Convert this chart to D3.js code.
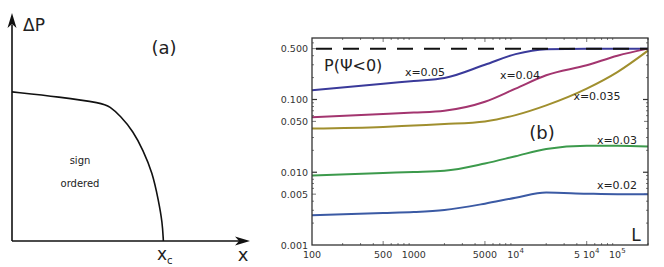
<!DOCTYPE html>
<html>
<head>
<meta charset="utf-8">
<script src="https://cdn.jsdelivr.net/npm/d3@7"></script>
<style>
  body { margin: 0; background: #fff; }
  text { font-family: "DejaVu Sans", "Noto Sans", sans-serif; }
</style>
</head>
<body>
<svg id="chart" width="664" height="267"></svg>
<script>
// ---------- data ----------
// panel (a): schematic phase boundary (x, deltaP), both in units of the drawn axes
const boundaryX = [0, 0.20, 0.38, 0.41, 0.455, 0.51, 0.55, 0.59, 0.615, 0.632, 0.636];
const boundaryY = [0.654, 0.632, 0.605, 0.59, 0.55, 0.48, 0.40, 0.30, 0.18, 0.08, 0];

// panel (b): P(Psi<0) vs L
const sizesL = [100, 500, 1000, 2000, 5000, 10000, 20000, 50000, 100000, 200000];
const p005 = [0.134, 0.164, 0.180, 0.197, 0.30, 0.42, 0.49, 0.5, 0.5, 0.5];
const p004 = [0.057, 0.063, 0.066, 0.070, 0.093, 0.141, 0.215, 0.295, 0.40, 0.5];
const p0035 = [0.040, 0.042, 0.044, 0.046, 0.050, 0.061, 0.083, 0.141, 0.238, 0.47];
const p003 = [0.0090, 0.0098, 0.0101, 0.0105, 0.0132, 0.0166, 0.0209, 0.0231, 0.0231, 0.0226];
const p002 = [0.00257, 0.00275, 0.00284, 0.00303, 0.0037, 0.00446, 0.00525, 0.00508, 0.0050, 0.0050];
const seriesNames = ["x=0.05", "x=0.04", "x=0.035", "x=0.03", "x=0.02"];
const seriesColors = ["#3a3a9a", "#a3356f", "#a08f2e", "#3c9a4c", "#3b5aa4"];
const limitP = 0.5;

const xTickVals = [100, 500, 1000, 5000, 10000, 50000, 100000];
const xTickLabels = [["100"], ["500"], ["1000"], ["5000"], ["10", "4"], ["5 10", "4"], ["10", "5"]];
const yTickVals = [0.001, 0.005, 0.01, 0.05, 0.1, 0.5];
const yTickLabels = ["0.001", "0.005", "0.010", "0.050", "0.100", "0.500"];

const svg = d3.select("#chart");

//////////////////// panel (a) ////////////////////
const ax = d3.scaleLinear().domain([0, 1]).range([12, 250]);
const ay = d3.scaleLinear().domain([0, 1]).range([241, 13]);
const gA = svg.append("g");

// axes with arrow heads
gA.append("line").attr("x1", ax(0)).attr("y1", ay(0)).attr("x2", ax(0)).attr("y2", ay(0.95))
  .attr("stroke", "#111").attr("stroke-width", 1.6);
gA.append("line").attr("x1", ax(0)).attr("y1", ay(0)).attr("x2", ax(0.96)).attr("y2", ay(0))
  .attr("stroke", "#111").attr("stroke-width", 1.6);
gA.append("path")
  .attr("d", `M${ax(0)},${ay(1)} L${ax(0) - 4.5},${ay(1) + 15} L${ax(0)},${ay(1) + 11} L${ax(0) + 4.5},${ay(1) + 15} Z`)
  .attr("fill", "#111");
gA.append("path")
  .attr("d", `M${ax(1)},${ay(0)} L${ax(1) - 15},${ay(0) - 4.5} L${ax(1) - 11},${ay(0)} L${ax(1) - 15},${ay(0) + 4.5} Z`)
  .attr("fill", "#111");

gA.append("path")
  .datum(boundaryX.map((v, i) => [v, boundaryY[i]]))
  .attr("fill", "none").attr("stroke", "#111").attr("stroke-width", 1.6)
  .attr("d", d3.line().x(d => ax(d[0])).y(d => ay(d[1])).curve(d3.curveBasis));

gA.append("text").attr("x", 23).attr("y", 31).attr("font-size", 17).attr("fill", "#222").text("ΔP");
gA.append("text").attr("x", 164).attr("y", 54).attr("font-size", 18).attr("text-anchor", "middle").attr("fill", "#222").text("(a)");
gA.append("text").attr("x", 80).attr("y", 164).attr("font-size", 10).attr("text-anchor", "middle").attr("fill", "#222").text("sign");
gA.append("text").attr("x", 80).attr("y", 187).attr("font-size", 10).attr("text-anchor", "middle").attr("fill", "#222").text("ordered");
const xc = gA.append("text").attr("x", 157).attr("y", 260).attr("font-size", 17).attr("fill", "#222");
xc.append("tspan").text("x");
xc.append("tspan").attr("font-size", 10).attr("dy", 4).text("c");
gA.append("text").attr("x", 243).attr("y", 261).attr("font-size", 18).attr("text-anchor", "middle").attr("fill", "#222").text("x");

//////////////////// panel (b) ////////////////////
const frame = { left: 312, right: 648, top: 38, bottom: 245 };
const x = d3.scaleLog().domain([100, 200000]).range([frame.left, frame.right]);
const y = d3.scaleLog().domain([0.001, 0.7]).range([frame.bottom, frame.top]);
const gB = svg.append("g");

// minor + major ticks
const minorX = [];
for (let e = 2; e <= 5; e++) for (let m = 2; m <= 9; m++) { const v = m * Math.pow(10, e); if (v <= 200000) minorX.push(v); }
const minorY = [];
for (let e = -3; e <= -1; e++) for (let m = 2; m <= 9; m++) { const v = m * Math.pow(10, e); if (v <= 0.7) minorY.push(v); }

minorX.forEach(v => {
  const len = xTickVals.includes(v) ? 4 : 2;
  gB.append("line").attr("x1", x(v)).attr("x2", x(v)).attr("y1", frame.bottom).attr("y2", frame.bottom - len).attr("stroke", "#555").attr("stroke-width", 0.8);
  gB.append("line").attr("x1", x(v)).attr("x2", x(v)).attr("y1", frame.top).attr("y2", frame.top + len).attr("stroke", "#555").attr("stroke-width", 0.8);
});
minorY.forEach(v => {
  const len = yTickVals.includes(v) ? 4 : 2;
  gB.append("line").attr("x1", frame.left).attr("x2", frame.left + len).attr("y1", y(v)).attr("y2", y(v)).attr("stroke", "#555").attr("stroke-width", 0.8);
  gB.append("line").attr("x1", frame.right).attr("x2", frame.right - len).attr("y1", y(v)).attr("y2", y(v)).attr("stroke", "#555").attr("stroke-width", 0.8);
});
[0.01, 0.1].forEach(v => {
  gB.append("line").attr("x1", frame.left).attr("x2", frame.left + 5).attr("y1", y(v)).attr("y2", y(v)).attr("stroke", "#333").attr("stroke-width", 1.2);
  gB.append("line").attr("x1", frame.right).attr("x2", frame.right - 5).attr("y1", y(v)).attr("y2", y(v)).attr("stroke", "#333").attr("stroke-width", 1.2);
});

// tick labels
xTickVals.forEach((v, i) => {
  const t = gB.append("text").attr("x", x(v)).attr("y", 258).attr("font-size", 9.5)
    .attr("text-anchor", "middle").attr("fill", "#333");
  t.append("tspan").text(xTickLabels[i][0]);
  if (xTickLabels[i][1]) t.append("tspan").attr("font-size", 7).attr("dy", -5).text(xTickLabels[i][1]);
});
yTickVals.forEach((v, i) => {
  gB.append("text").attr("x", 308).attr("y", y(v) + 3.5).attr("font-size", 9.5)
    .attr("text-anchor", "end").attr("fill", "#333").text(yTickLabels[i]);
});

// curves
const allSeries = [p005, p004, p0035, p003, p002];
const lineFunc = d3.line().x(d => x(d[0])).y(d => y(d[1])).curve(d3.curveMonotoneX);
allSeries.forEach((s, i) => {
  gB.append("path")
    .datum(sizesL.map((L, j) => [L, s[j]]))
    .attr("fill", "none").attr("stroke", seriesColors[i]).attr("stroke-width", 2)
    .attr("d", lineFunc);
});

// dashed limit line, drawn over the curves
gB.append("line").attr("x1", x(100)).attr("x2", x(200000)).attr("y1", y(limitP)).attr("y2", y(limitP))
  .attr("stroke", "#111").attr("stroke-width", 2).attr("stroke-dasharray", "16,11").attr("stroke-dashoffset", -4);

// frame
gB.append("rect").attr("x", frame.left).attr("y", frame.top)
  .attr("width", frame.right - frame.left).attr("height", frame.bottom - frame.top)
  .attr("fill", "none").attr("stroke", "#333").attr("stroke-width", 1.3);

// series labels
const labelPos = [[425, 76], [520, 79], [597, 100], [617, 144], [617, 189]];
seriesNames.forEach((n, i) => {
  gB.append("text").attr("x", labelPos[i][0]).attr("y", labelPos[i][1]).attr("font-size", 11)
    .attr("text-anchor", "middle").attr("fill", "#222").text(n);
});

gB.append("text").attr("x", 324).attr("y", 71).attr("font-size", 16).attr("fill", "#222").text("P(Ψ<0)");
gB.append("text").attr("x", 542).attr("y", 139).attr("font-size", 18).attr("text-anchor", "middle").attr("fill", "#222").text("(b)");
gB.append("text").attr("x", 636).attr("y", 241).attr("font-size", 17).attr("text-anchor", "middle").attr("fill", "#222").text("L");
</script>
</body>
</html>
